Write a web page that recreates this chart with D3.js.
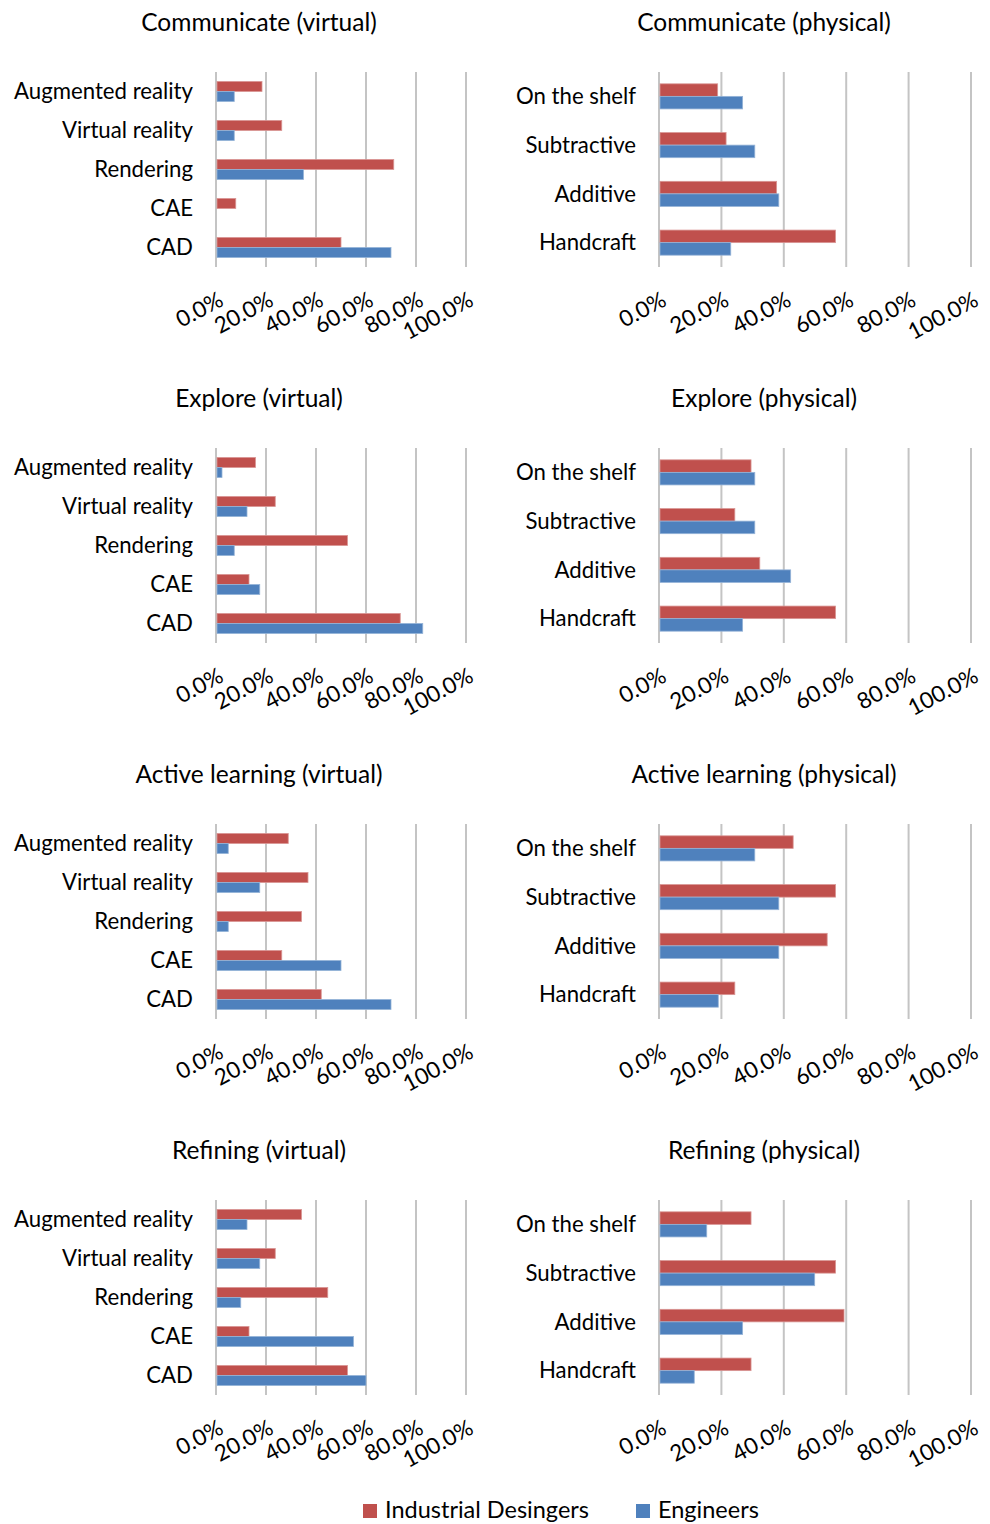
<!DOCTYPE html>
<html><head><meta charset="utf-8">
<script src="https://cdn.jsdelivr.net/npm/d3@7"></script>
<style>
html,body{margin:0;padding:0;background:#fff;}
svg text{font-family:Lato,"Open Sans",sans-serif;fill:#000;}
</style></head>
<body>
<svg id="chart" width="990" height="1524"></svg>
<script>
// ---------- data ----------
const virtualCategories = ["Augmented reality","Virtual reality","Rendering","CAE","CAD"];
const physicalCategories = ["On the shelf","Subtractive","Additive","Handcraft"];
const seriesNames = ["Industrial Desingers","Engineers"];
const tickValues = [0,20,40,60,80,100];
const tickLabels = ["0.0%","20.0%","40.0%","60.0%","80.0%","100.0%"];

const communicateVirtualDesigners = [18.4, 26.3, 71.1, 7.9, 50.0];
const communicateVirtualEngineers = [7.3, 7.3, 35.0, 0, 70.0];
const communicatePhysicalDesigners = [18.8, 21.5, 37.7, 56.6];
const communicatePhysicalEngineers = [26.8, 30.7, 38.4, 23.0];

const exploreVirtualDesigners = [15.8, 23.7, 52.6, 13.2, 73.7];
const exploreVirtualEngineers = [2.4, 12.4, 7.3, 17.5, 82.7];
const explorePhysicalDesigners = [29.5, 24.3, 32.3, 56.6];
const explorePhysicalEngineers = [30.7, 30.7, 42.2, 26.8];

const activeVirtualDesigners = [28.9, 36.8, 34.2, 26.3, 42.1];
const activeVirtualEngineers = [4.9, 17.5, 4.9, 50.0, 70.0];
const activePhysicalDesigners = [43.0, 56.6, 53.9, 24.3];
const activePhysicalEngineers = [30.7, 38.4, 38.4, 19.0];

const refiningVirtualDesigners = [34.2, 23.7, 44.7, 13.2, 52.6];
const refiningVirtualEngineers = [12.4, 17.5, 9.9, 55.0, 60.0];
const refiningPhysicalDesigners = [29.5, 56.6, 59.3, 29.5];
const refiningPhysicalEngineers = [15.3, 49.9, 26.8, 11.3];

const panels = [
  {title:"Communicate (virtual)", cats:virtualCategories, d:communicateVirtualDesigners, e:communicateVirtualEngineers, row:0, col:0},
  {title:"Communicate (physical)", cats:physicalCategories, d:communicatePhysicalDesigners, e:communicatePhysicalEngineers, row:0, col:1},
  {title:"Explore (virtual)", cats:virtualCategories, d:exploreVirtualDesigners, e:exploreVirtualEngineers, row:1, col:0},
  {title:"Explore (physical)", cats:physicalCategories, d:explorePhysicalDesigners, e:explorePhysicalEngineers, row:1, col:1},
  {title:"Active learning (virtual)", cats:virtualCategories, d:activeVirtualDesigners, e:activeVirtualEngineers, row:2, col:0},
  {title:"Active learning (physical)", cats:physicalCategories, d:activePhysicalDesigners, e:activePhysicalEngineers, row:2, col:1},
  {title:"Refining (virtual)", cats:virtualCategories, d:refiningVirtualDesigners, e:refiningVirtualEngineers, row:3, col:0},
  {title:"Refining (physical)", cats:physicalCategories, d:refiningPhysicalDesigners, e:refiningPhysicalEngineers, row:3, col:1}
];

// ---------- layout ----------
const colors = {d:"#C0504D", e:"#4F81BD"};
const strokes = {d:"#D99694", e:"#95B3D7"};
const FS_LABEL = 22.2, FS_TITLE = 24.5, FS_TICK = 22.5, FS_LEGEND = 23.5;
const rowStep = 376;
const colLayout = [
  {x0:216, x1:466, titleX:259, labelX:193},
  {x0:659, x1:971, titleX:764, labelX:636}
];
const plotTop = 72, plotBottom = 267, titleY = 31, tickY = 290;

const svg = d3.select("#chart");

panels.forEach(p => {
  const L = colLayout[p.col];
  const oy = p.row * rowStep;
  const g = svg.append("g").attr("transform", `translate(0,${oy})`);

  const x = d3.scaleLinear().domain([0,100]).range([L.x0, L.x1]);
  const y = d3.scaleBand().domain(p.cats).range([plotTop, plotBottom])
              .paddingInner(0.485).paddingOuter(0.2425);
  const ys = d3.scaleBand().domain(["d","e"]).range([0, y.bandwidth()]);

  // title
  g.append("text").attr("x", L.titleX).attr("y", titleY)
    .attr("text-anchor","middle").style("font-size", FS_TITLE+"px").text(p.title);

  // gridlines (incl. axis at 0)
  g.append("g").selectAll("line").data(tickValues).join("line")
    .attr("x1", d => x(d)).attr("x2", d => x(d))
    .attr("y1", plotTop).attr("y2", plotBottom)
    .attr("stroke", "#C4C4C4").attr("stroke-width", 2);

  // bars
  const rows = p.cats.map((c,i) => ({cat:c, d:p.d[i], e:p.e[i]}));
  const grp = g.append("g").selectAll("g").data(rows).join("g")
    .attr("transform", r => `translate(0,${y(r.cat)})`);
  ["d","e"].forEach(k => {
    grp.filter(r => r[k] > 0).append("rect")
      .attr("x", x(0) + 1)
      .attr("y", ys(k))
      .attr("width", r => Math.max(0, x(r[k]) - x(0) - 1))
      .attr("height", ys.bandwidth())
      .attr("fill", colors[k])
      .attr("stroke", strokes[k]).attr("stroke-width", 0.8);
  });

  // category labels
  g.append("g").selectAll("text").data(p.cats).join("text")
    .attr("x", L.labelX).attr("y", c => y(c) + y.bandwidth()/2)
    .attr("dy","0.35em").attr("text-anchor","end")
    .style("font-size", FS_LABEL+"px").text(c => c);

  // tick labels (rotated)
  g.append("g").selectAll("text").data(tickValues).join("text")
    .attr("transform", (d) => `translate(${x(d)+1},${tickY}) rotate(-28)`)
    .attr("text-anchor","end").attr("dy","0.75em")
    .style("font-size", FS_TICK+"px")
    .text((d,i) => tickLabels[i]);
});

// legend
const legend = svg.append("g");
const legendItems = [
  {name:seriesNames[0], k:"d", x:363},
  {name:seriesNames[1], k:"e", x:636}
];
legendItems.forEach(it => {
  legend.append("rect").attr("x", it.x).attr("y", 1504).attr("width", 14).attr("height", 14)
    .attr("fill", colors[it.k]);
  legend.append("text").attr("x", it.x + 22).attr("y", 1518)
    .style("font-size", FS_LEGEND+"px").text(it.name);
});
</script>
</body></html>
